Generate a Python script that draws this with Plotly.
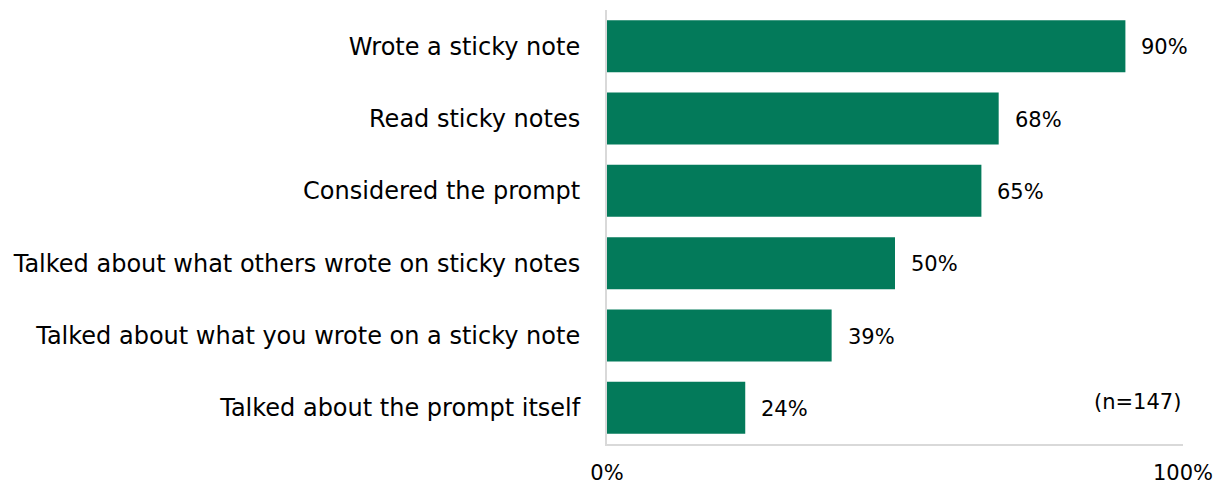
import plotly.graph_objects as go

activities = [
    "Wrote a sticky note",
    "Read sticky notes",
    "Considered the prompt",
    "Talked about what others wrote on sticky notes",
    "Talked about what you wrote on a sticky note",
    "Talked about the prompt itself",
]
shares = [90, 68, 65, 50, 39, 24]
tick_values = [0, 100]
tick_labels = ["0%", "100%"]
sample_note = "(n=147)"

BAR_COLOR = "#037A5A"
AXIS_COLOR = "#d9d9d9"
FONT = "DejaVu Sans"

fig = go.Figure(
    go.Bar(
        x=shares,
        y=activities,
        orientation="h",
        marker=dict(color=BAR_COLOR, line=dict(width=0)),
        hoverinfo="skip",
    )
)

# value labels placed just past the end of each bar
value_labels = [
    dict(
        text=f"{v}%",
        x=v,
        y=name,
        xref="x",
        yref="y",
        xanchor="left",
        yanchor="middle",
        xshift=14,
        yshift=-1,
        showarrow=False,
        font=dict(family=FONT, size=21, color="#000000"),
    )
    for name, v in zip(activities, shares)
]

fig.update_layout(
    width=1217,
    height=487,
    margin=dict(l=607, r=34, t=10, b=43),
    paper_bgcolor="white",
    plot_bgcolor="white",
    bargap=0.28,
    showlegend=False,
    font=dict(family=FONT, size=24, color="#000000"),
    xaxis=dict(
        range=[0, 100],
        tickvals=tick_values,
        ticktext=tick_labels,
        showgrid=False,
        zeroline=False,
        showline=True,
        linecolor=AXIS_COLOR,
        linewidth=2,
        ticks="outside",
        ticklen=9,
        tickcolor="rgba(0,0,0,0)",
        tickfont=dict(family=FONT, size=21),
        automargin=False,
        fixedrange=True,
    ),
    yaxis=dict(
        categoryorder="array",
        categoryarray=activities[::-1],
        showgrid=False,
        zeroline=False,
        showline=True,
        linecolor=AXIS_COLOR,
        linewidth=2,
        ticks="outside",
        ticklen=20,
        tickcolor="rgba(0,0,0,0)",
        tickfont=dict(family=FONT, size=24),
        automargin=False,
        fixedrange=True,
    ),
    annotations=value_labels
    + [
        dict(
            text=sample_note,
            x=1.0,
            y=activities[-1],
            xref="paper",
            yref="y",
            xanchor="right",
            yanchor="middle",
            yshift=6,
            showarrow=False,
            font=dict(family=FONT, size=21, color="#000000"),
        )
    ],
)

fig.write_html("out.html")
